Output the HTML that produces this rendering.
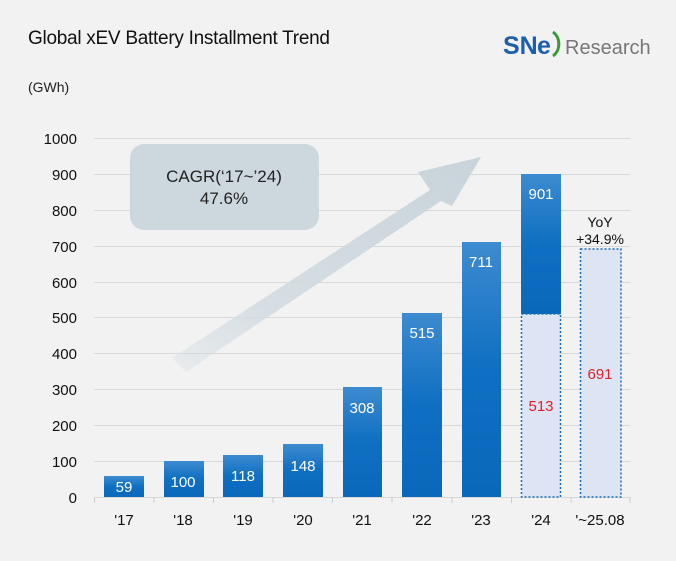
<!DOCTYPE html>
<html><head><meta charset="utf-8"><style>
html,body{margin:0;padding:0;background:#f2f2f2;}
svg{display:block;font-family:"Liberation Sans",sans-serif;}
</style></head><body>
<svg width="676" height="561" viewBox="0 0 676 561">
<defs>
<linearGradient id="g" x1="0" y1="0" x2="0" y2="1">
<stop offset="0" stop-color="#3d8bd0"/><stop offset="0.5" stop-color="#0f6fc2"/><stop offset="1" stop-color="#0a68bb"/>
</linearGradient>
<linearGradient id="ag" x1="0" y1="1" x2="1" y2="0">
<stop offset="0" stop-color="#d3dce2" stop-opacity="0.3"/><stop offset="0.3" stop-color="#d3dce2" stop-opacity="0.9"/><stop offset="1" stop-color="#c8d3da"/>
</linearGradient>
</defs>
<rect width="676" height="561" fill="#f2f2f2"/>
<text x="28" y="44" font-size="19" fill="#111" textLength="302">Global xEV Battery Installment Trend</text>
<text x="503" y="54" font-size="25" font-weight="bold" fill="#1b5fae">SN</text>
<text x="537" y="54" font-size="25" font-weight="bold" fill="#1b5fae">e</text>
<path d="M553 32 a12 14 0 0 1 0 24" stroke="#3a9a3a" stroke-width="3" fill="none"/>
<text x="565" y="54" font-size="20" fill="#777">Research</text>
<text x="28" y="92" font-size="14" fill="#222">(GWh)</text>
<g stroke="#d8d8d8" stroke-width="1">
<line x1="94" y1="138.5" x2="630" y2="138.5"/><line x1="94" y1="174.5" x2="630" y2="174.5"/>
<line x1="94" y1="210.5" x2="630" y2="210.5"/><line x1="94" y1="246.5" x2="630" y2="246.5"/>
<line x1="94" y1="282.5" x2="630" y2="282.5"/><line x1="94" y1="317.5" x2="630" y2="317.5"/>
<line x1="94" y1="353.5" x2="630" y2="353.5"/><line x1="94" y1="389.5" x2="630" y2="389.5"/>
<line x1="94" y1="425.5" x2="630" y2="425.5"/><line x1="94" y1="461.5" x2="630" y2="461.5"/>
<line x1="94" y1="497.5" x2="630" y2="497.5"/>
</g>
<g stroke="#ccc"><line x1="94.5" y1="497" x2="94.5" y2="503"/><line x1="154" y1="497" x2="154" y2="503"/><line x1="213.5" y1="497" x2="213.5" y2="503"/><line x1="273" y1="497" x2="273" y2="503"/><line x1="332.5" y1="497" x2="332.5" y2="503"/><line x1="392" y1="497" x2="392" y2="503"/><line x1="452" y1="497" x2="452" y2="503"/><line x1="511.5" y1="497" x2="511.5" y2="503"/><line x1="571" y1="497" x2="571" y2="503"/><line x1="630" y1="497" x2="630" y2="503"/></g>
<g font-size="15" fill="#111" text-anchor="end">
<text x="77" y="144">1000</text><text x="77" y="180">900</text><text x="77" y="216">800</text><text x="77" y="252">700</text><text x="77" y="288">600</text><text x="77" y="323">500</text><text x="77" y="359">400</text><text x="77" y="395">300</text><text x="77" y="431">200</text><text x="77" y="467">100</text><text x="77" y="503">0</text>
</g>
<polygon points="172,358 430,190 418,172 481,157 452,206 441,201 186,372" fill="url(#ag)"/>
<rect x="130" y="144" width="189" height="86" rx="14" fill="#cdd8de"/>
<text x="224" y="182" font-size="17" fill="#222" text-anchor="middle">CAGR(‘17~’24)</text>
<text x="224" y="204" font-size="17" fill="#222" text-anchor="middle">47.6%</text>
<g fill="url(#g)">
<rect x="104" y="476" width="40" height="21"/><rect x="164" y="461" width="40" height="36"/>
<rect x="223" y="455" width="40" height="42"/><rect x="283" y="444" width="40" height="53"/>
<rect x="343" y="387" width="39" height="110"/><rect x="402" y="313" width="40" height="184"/>
<rect x="462" y="242" width="39" height="255"/><rect x="521" y="174" width="40" height="140"/>
</g>
<rect x="521.5" y="314" width="39" height="183" fill="#dde4f4" stroke="#1a6cb8" stroke-width="1.5" stroke-dasharray="2,2"/>
<rect x="580.5" y="249" width="40.5" height="248" fill="#dde4f4" stroke="#1a6cb8" stroke-width="1.5" stroke-dasharray="2,2"/>
<g font-size="15" fill="#fff" text-anchor="middle">
<text x="124" y="492">59</text><text x="183" y="487">100</text><text x="243" y="481">118</text><text x="303" y="471">148</text><text x="362" y="413">308</text><text x="422" y="338">515</text><text x="481" y="267">711</text><text x="541" y="199">901</text>
</g>
<g font-size="15" fill="#e0202a" text-anchor="middle"><text x="541" y="411">513</text><text x="600" y="379">691</text></g>
<g font-size="14" fill="#111" text-anchor="middle"><text x="600" y="227">YoY</text><text x="600" y="244">+34.9%</text></g>
<g font-size="15" fill="#111" text-anchor="middle">
<text x="124" y="525">'17</text><text x="183" y="525">'18</text><text x="243" y="525">'19</text><text x="303" y="525">'20</text><text x="362" y="525">'21</text><text x="422" y="525">'22</text><text x="481" y="525">'23</text><text x="541" y="525">'24</text><text x="600" y="525">'~25.08</text>
</g>
</svg>
</body></html>
